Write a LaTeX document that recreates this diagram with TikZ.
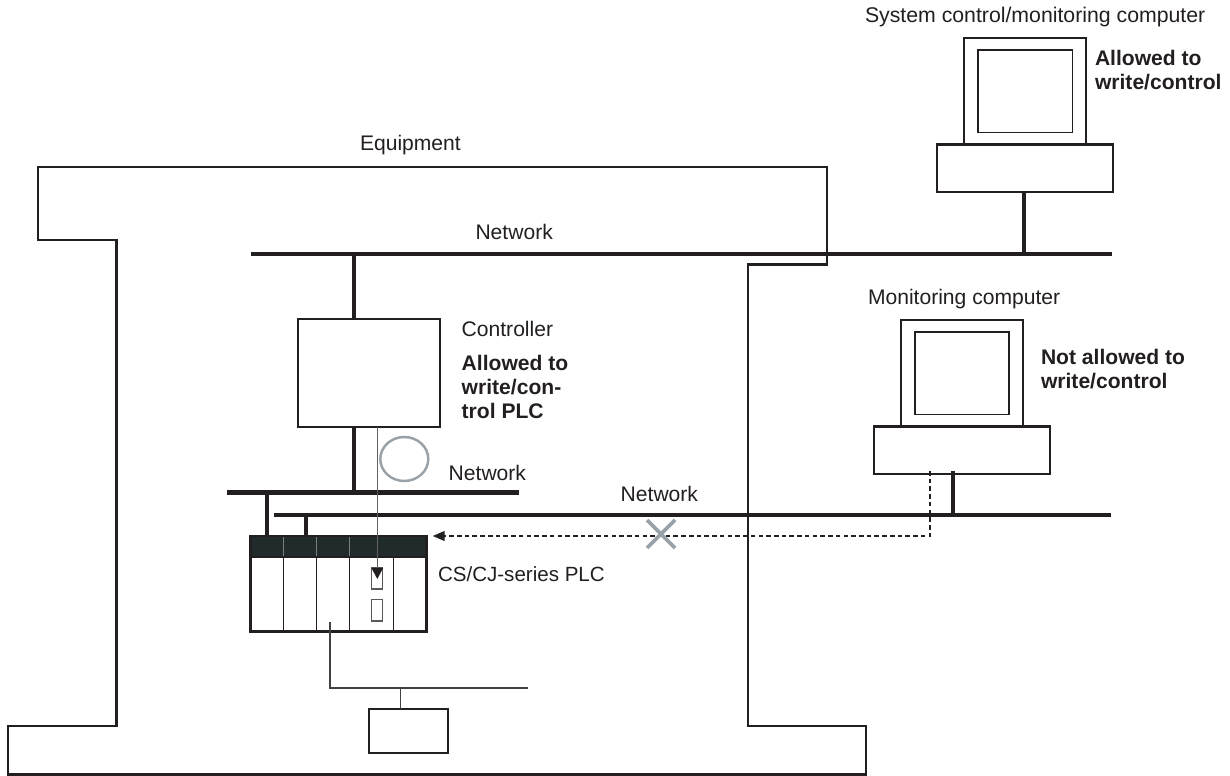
\documentclass[tikz,border=0pt]{standalone}
\usepackage{fontspec}
\setmainfont{Liberation Sans}
\usetikzlibrary{arrows.meta}
\definecolor{inkdark}{HTML}{231F20}
\definecolor{banddark}{HTML}{222B2C}
\definecolor{markgray}{HTML}{98A2A8}
\begin{document}
\begin{tikzpicture}[x=0.02cm, y=-0.02cm, >={Stealth[length=6.8pt,width=5.6pt,inset=0pt]}, line join=miter,
	outline/.style={draw=inkdark, line width=1.5pt},
	bus/.style={draw=inkdark, line width=2.7pt},
	stem/.style={draw=inkdark, line width=2.2pt},
	unitbox/.style={draw=inkdark, line width=1.5pt, fill=white, inner sep=0pt, outer sep=0pt},
	screen/.style={draw=inkdark, line width=0.8pt, inner sep=0pt, outer sep=0pt},
	slot/.style={draw=inkdark!75, line width=0.7pt, inner sep=0pt, outer sep=0pt, minimum width=0.22cm},
	divider/.style={draw=inkdark, line width=0.8pt},
	thinline/.style={draw=inkdark!85, line width=0.9pt},
	label/.style={anchor=base west, inner sep=0pt, outer sep=0pt, text=inkdark, font=\fontsize{12}{13.7}\selectfont},
	strong/.style={label, align=left, font=\fontsize{12}{13.7}\selectfont\bfseries}]
	\useasboundingbox (0,0) rectangle (1230,776);

	% 1. Equipment outline
	\draw[outline] (38,167) -- (827,167) -- (827,264.5) -- (748,264.5) -- (748,726) -- (866,726)
	-- (866,774.5) -- (8,774.5) -- (8,726) -- (116.5,726) -- (116.5,240) -- (38,240) -- cycle;

	% 2. Network lines
	\coordinate (netTopL) at (251,254);
	\coordinate (netTopR) at (1112,254);
	\coordinate (netMidL) at (227,492.7);
	\coordinate (netMidR) at (519,492.7);
	\coordinate (netLowL) at (274,515);
	\coordinate (netLowR) at (1111,515);
	\draw[bus] (netTopL) -- (netTopR);
	\draw[bus] (netMidL) -- (netMidR);
	\draw[bus] (netLowL) -- (netLowR);

	% 3. Computers and controller
	\node[unitbox, minimum width=2.44cm, minimum height=2.12cm] (sysMonitor) at (1025,91) {};
	\node[screen, minimum width=1.89cm, minimum height=1.65cm] (sysScreen) at (1025.3,91.3) {};
	\node[unitbox, minimum width=3.52cm, minimum height=0.95cm] (sysBase) at (1025,168.3) {};
	\node[unitbox, minimum width=2.44cm, minimum height=2.12cm] (monMonitor) at (962,373) {};
	\node[screen, minimum width=1.88cm, minimum height=1.66cm] (monScreen) at (962,373.3) {};
	\node[unitbox, minimum width=3.52cm, minimum height=0.95cm] (monBase) at (962,450.3) {};
	\node[unitbox, minimum width=2.84cm, minimum height=2.16cm] (ctrl) at (369,373) {};

	% 4. PLC
	\node[unitbox, minimum width=3.52cm, minimum height=1.91cm] (plc) at (338.7,583.8) {};
	\node[unitbox, fill=banddark, minimum width=3.52cm, minimum height=0.42cm] (plcBand) at (338.7,546.5) {};
	\foreach \xpos/\ypos in {283.7/536, 316.7/536, 349.7/536, 393.3/557}
		\draw[divider] (\xpos,\ypos) -- (\xpos,631.7);
	\foreach \xpos in {283.7, 316.7, 349.7}
		\draw[draw=white!40!banddark, line width=0.7pt] (\xpos,537) -- (\xpos,556);
	\node[slot, minimum height=0.42cm] (slotA) at (377,578.5) {};
	\node[slot, minimum height=0.43cm] (slotB) at (377,610.3) {};
	\node[unitbox, line width=0.85pt, minimum width=1.58cm, minimum height=0.88cm] (device) at (408.5,731) {};

	% 5. Stems
	\coordinate (sysStem) at (1024,192);
	\coordinate (ctrlUp) at (354,319);
	\coordinate (ctrlDown) at (354,427);
	\coordinate (monStem) at (953,471);
	\coordinate (plcMid) at (266.7,536);
	\coordinate (plcLow) at (306,536);
	\draw[stem] (sysStem) -- (sysStem |- netTopL);
	\draw[stem] (ctrlUp) -- (ctrlUp |- netTopL);
	\draw[stem] (ctrlDown) -- (ctrlDown |- netMidL);
	\draw[stem] (monStem) -- (monStem |- netLowL);
	\draw[stem] (plcMid) -- (plcMid |- netMidL);
	\draw[stem] (plcLow) -- (plcLow |- netLowL);

	% 6. Device wiring
	\coordinate (plcOut) at (330,622);
	\coordinate (wireEnd) at (527.7,688);
	\coordinate (deviceTop) at (400.7,709);
	\draw[thinline] (plcOut) |- (wireEnd);
	\draw[thinline] (deviceTop) -- (deviceTop |- wireEnd);

	% 7. Allowed and refused paths
	\coordinate (ctrlTap) at (377.3,427);
	\coordinate (tapEnd) at (377.3,579);
	\coordinate (monTap) at (930,471);
	\coordinate (dashEnd) at (432.7,536);
	\draw[draw=inkdark!70, line width=0.7pt, -{Stealth[length=6.4pt,width=6.6pt,inset=0pt,inkdark]}] (ctrlTap) -- (tapEnd);
	\draw[draw=inkdark, line width=0.75pt, dash pattern=on 2.6pt off 1.8pt, ->] (monTap) |- (dashEnd);
	\draw[draw=markgray, line width=1.4pt] (404.3,459) ellipse [x radius=24, y radius=22];
	\draw[draw=markgray, line width=2.1pt] (647,520) -- (675,548) (675,520) -- (647,548);

	% 8. Labels
	\node[label, font=\fontsize{12.1}{13.7}\selectfont] (lblSys) at (865,23) {System control/monitoring computer};
	\node[strong] (lblSysA) at (1095,65.5) {Allowed to};
	\node[strong] (lblSysB) at (1095,89.5) {write/control};
	\node[label] (lblEquip) at (360,151) {Equipment};
	\node[label] (lblNetTop) at (475.5,240) {Network};
	\node[label] (lblMon) at (868,305) {Monitoring computer};
	\node[strong] (lblMonA) at (1041,365) {Not allowed to};
	\node[strong] (lblMonB) at (1041,389) {write/control};
	\node[label] (lblCtrl) at (461.7,336.7) {Controller};
	\node[strong] (lblCtrlA) at (461.7,370.2) {Allowed to};
	\node[strong] (lblCtrlB) at (461.7,394.7) {write/con-};
	\node[strong] (lblCtrlC) at (461.7,418.5) {trol PLC};
	\node[label] (lblNetMid) at (448.7,480.7) {Network};
	\node[label] (lblNetLow) at (620.7,501.7) {Network};
	\node[label, font=\fontsize{11.7}{13.7}\selectfont] (lblPlc) at (438,581) {CS/CJ-series PLC};
\end{tikzpicture}
\end{document}
